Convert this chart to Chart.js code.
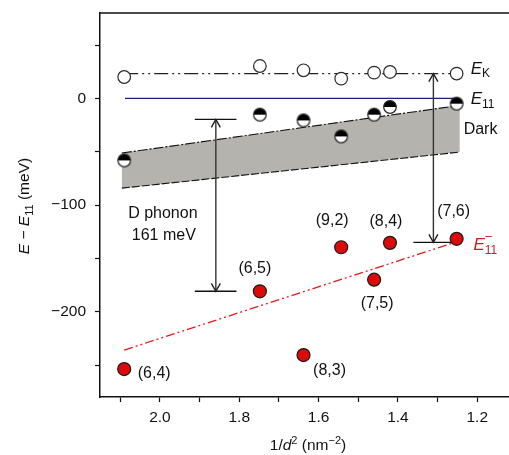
<!DOCTYPE html>
<html><head><meta charset="utf-8">
<script src="https://cdn.jsdelivr.net/npm/chart.js@4.4.1/dist/chart.umd.min.js"></script>
<style>html,body{margin:0;padding:0;background:#fff;} canvas{display:block;}</style>
</head><body>
<canvas id="c" width="509" height="455"></canvas>
<script>
// ---- data ----
const tubes  = ['(6,4)', '(6,5)', '(8,3)', '(9,2)', '(7,5)', '(8,4)', '(7,6)'];
const invD2  = [2.09, 1.748, 1.638, 1.543, 1.46, 1.42, 1.252];
const eK     = [20, 30.3, 26.3, 18.5, 24.1, 24.7, 23.2];
const eDark  = [-58.2, -15.3, -20.7, -35.7, -15.3, -8.1, -5.0];
const eMinus = [-253.8, -180.9, -240.7, -139.6, -170, -135.5, -131.7];

const ekLineX  = [2.09, 1.252];  const ekLineY  = [23.2, 23.2];
const e11LineX = [2.088, 1.256]; const e11LineY = [0, 0];
const fitX     = [2.09, 1.26];   const fitY     = [-236, -135.5];
const bandX      = [2.096, 1.244];
const bandTop    = [-51.3, -6.6];
const bandBottom = [-84.2, -50.4];
const phononX = 1.859; const phononFrom = -19.7; const phononTo = -180.9;
const phononBarX = [1.912, 1.807];
const arrow2X = 1.3106; const arrow2From = 23.2; const arrow2To = -135;
const arrow2BarX = [1.361, 1.26];

const xTickValues = [1.2, 1.3, 1.4, 1.5, 1.6, 1.7, 1.8, 1.9, 2.0, 2.1];
const xMajor = [2.0, 1.8, 1.6, 1.4, 1.2];
const yTickValues = [-250, -200, -150, -100, -50, 0, 50];
const yMajor = [0, -100, -200];

// ---- helpers ----
const FONT = '"Liberation Sans", Arial, Helvetica, sans-serif';
const pts = (xs, ys) => xs.map((x, i) => ({x, y: ys[i]}));
const hline = (xs, y) => xs.map(x => ({x, y}));
const near = (a, b) => Math.abs(a - b) < 1e-6;

function halfDot(r) {
  const s = Math.ceil(2 * r + 3), c = document.createElement('canvas');
  c.width = s; c.height = s;
  const g = c.getContext('2d'), m = s / 2;
  g.beginPath(); g.arc(m, m, r, 0, 2 * Math.PI); g.fillStyle = '#fff'; g.fill();
  g.beginPath(); g.arc(m, m, r, Math.PI, 2 * Math.PI); g.closePath(); g.fillStyle = '#000'; g.fill();
  g.beginPath(); g.arc(m, m, r, 0, 2 * Math.PI); g.lineWidth = 1.2; g.strokeStyle = '#222'; g.stroke();
  return c;
}

function fnt(p) { return (p.italic ? 'italic ' : '') + (p.size || 16) + 'px ' + FONT; }
function rich(ctx, parts, x, y, align) {
  let w = 0;
  parts.forEach(p => { ctx.font = fnt(p); p.w = ctx.measureText(p.t).width; if (p.adv !== false) w += p.w; });
  let cx = align === 'center' ? x - w / 2 : (align === 'right' ? x - w : x);
  ctx.textAlign = 'left'; ctx.textBaseline = 'alphabetic';
  parts.forEach(p => {
    ctx.font = fnt(p); ctx.fillStyle = p.color || '#111';
    ctx.fillText(p.t, cx, y + (p.dy || 0));
    if (p.adv !== false) cx += p.w;
  });
}

const labelOffsets = { // pixel offsets of tube labels from their red points
  '(6,4)': [30, 5], '(6,5)': [-5, -23], '(8,3)': [26, 16], '(9,2)': [-9, -27],
  '(7,5)': [3, 24], '(8,4)': [-4, -21], '(7,6)': [-3, -27]
};

const annot = {
  id: 'annot',
  afterDatasetsDraw(chart) {
    const ctx = chart.ctx, xs = chart.scales.x, ys = chart.scales.y, a = chart.chartArea;
    const X = v => xs.getPixelForValue(v), Y = v => ys.getPixelForValue(v);
    ctx.save();
    ctx.strokeStyle = '#111'; ctx.lineWidth = 1.5;
    ctx.beginPath(); ctx.moveTo(a.left, a.top); ctx.lineTo(a.right, a.top); ctx.stroke();
    ctx.strokeStyle = '#222'; ctx.lineWidth = 1.4;
    const head = (x, y, dir) => { ctx.beginPath(); ctx.moveTo(x - 4.5, y + dir * 8); ctx.lineTo(x, y); ctx.lineTo(x + 4.5, y + dir * 8); ctx.stroke(); };
    head(X(phononX), Y(phononFrom), 1);
    head(X(phononX), Y(phononTo), -1);
    head(X(arrow2X), Y(arrow2From), 1);
    head(X(arrow2X), Y(arrow2To), -1);
    ctx.font = '16px ' + FONT; ctx.fillStyle = '#111'; ctx.textAlign = 'center'; ctx.textBaseline = 'middle';
    tubes.forEach((t, i) => {
      const o = labelOffsets[t];
      ctx.fillText(t, X(invD2[i]) + o[0], Y(eMinus[i]) + o[1]);
    });
    const py = Y((phononFrom + phononTo) / 2), px = X(phononX);
    ctx.fillText('D phonon', px - 53, py + 8.5);
    ctx.fillText('161 meV', px - 52, py + 30);
    const ekx = X(ekLineX[1]) + 14, eky = Y(ekLineY[1]);
    rich(ctx, [{t: 'E', italic: true, size: 17}, {t: 'K', size: 12, dy: 3}], ekx, eky, 'left');
    rich(ctx, [{t: 'E', italic: true, size: 17}, {t: '11', size: 12, dy: 4}], ekx, Y(0) + 5.5, 'left');
    ctx.font = '16px ' + FONT; ctx.textAlign = 'left'; ctx.textBaseline = 'alphabetic'; ctx.fillStyle = '#111';
    ctx.fillText('Dark', ekx - 7, Y(0) + 35.5);
    const red = '#d81818';
    rich(ctx, [{t: 'E', italic: true, size: 17, color: red},
               {t: '\u2212', size: 13, dy: -9, color: red, adv: false},
               {t: '11', size: 12, dy: 4, color: red}], X(fitX[1]) + 20, Y(fitY[1]) + 7.5, 'left');
    rich(ctx, [{t: '1/', size: 15.5}, {t: 'd', italic: true, size: 15.5}, {t: '2', size: 11, dy: -6},
               {t: ' (nm', size: 15.5}, {t: '\u22122', size: 11, dy: -6}, {t: ')', size: 15.5}],
         308, 450, 'center');
    ctx.translate(29, 206); ctx.rotate(-Math.PI / 2);
    rich(ctx, [{t: 'E', italic: true, size: 15.5}, {t: ' \u2212 ', size: 15.5}, {t: 'E', italic: true, size: 15.5},
               {t: '11', size: 11, dy: 4}, {t: ' (meV)', size: 15.5}], 0, 0, 'center');
    ctx.restore();
  }
};

const lineDs = (data, color, width, dash, extra) => Object.assign({
  data, showLine: true, borderColor: color, borderWidth: width, borderDash: dash || [],
  pointRadius: 0, pointHoverRadius: 0, fill: false, tension: 0
}, extra || {});

new Chart(document.getElementById('c'), {
  type: 'scatter',
  data: {
    datasets: [
      {data: pts(invD2, eMinus), pointRadius: 6.5, pointBackgroundColor: '#dd0a0a', pointBorderColor: '#1a1a1a', pointBorderWidth: 1.2, showLine: false},
      {data: pts(invD2, eDark), pointStyle: halfDot(6.3), pointRadius: 6.5, showLine: false},
      {data: pts(invD2, eK), pointRadius: 6.3, pointBackgroundColor: '#fff', pointBorderColor: '#2a2a2a', pointBorderWidth: 1.2, showLine: false},
      lineDs([{x: phononX, y: phononFrom}, {x: phononX, y: phononTo}], '#333', 1.4),
      lineDs(hline(phononBarX, phononFrom), '#111', 1.4),
      lineDs(hline(phononBarX, phononTo), '#111', 1.4),
      lineDs([{x: arrow2X, y: arrow2From}, {x: arrow2X, y: arrow2To}], '#333', 1.4),
      lineDs(hline(arrow2BarX, arrow2To), '#111', 1.4),
      lineDs(pts(ekLineX, ekLineY), '#222', 1.2, [14, 4, 2, 4, 2, 4]),
      lineDs(pts(e11LineX, e11LineY), '#1c1c84', 1.2),
      lineDs(pts(fitX, fitY), '#e01a1a', 1.3, [9, 3, 2, 3, 2, 3]),
      lineDs(pts(bandX, bandTop), '#111', 1.1, [10, 2, 2, 2]),
      lineDs(pts(bandX, bandBottom), '#111', 1.1, [8, 2], {fill: '-1', backgroundColor: '#b5b3ae'})
    ]
  },
  options: {
    responsive: false, animation: false, events: [],
    layout: {autoPadding: false, padding: {top: 13, right: 0, left: 0, bottom: 0}},
    plugins: {legend: {display: false}, tooltip: {enabled: false}},
    scales: {
      x: {
        type: 'linear', reverse: true, min: 1.12, max: 2.151,
        afterBuildTicks: s => { s.ticks = xTickValues.map(v => ({value: v})); },
        afterFit: s => { s.height = 58; s.paddingLeft = 0; s.paddingRight = 0; s.paddingTop = 0; s.paddingBottom = 0; },
        ticks: {
          font: {family: FONT, size: 15.5}, color: '#111', padding: 6, maxRotation: 0, autoSkip: false,
          callback: v => xMajor.some(m => near(m, v)) ? v.toFixed(1) : ''
        },
        grid: {drawOnChartArea: false, drawTicks: true, tickLength: 5, color: '#111', tickWidth: 1.2},
        border: {display: true, color: '#111', width: 1.5}
      },
      y: {
        type: 'linear', min: -280, max: 80,
        afterBuildTicks: s => { s.ticks = yTickValues.map(v => ({value: v})); },
        afterFit: s => { s.width = 100; s.paddingLeft = 0; s.paddingRight = 0; s.paddingTop = 0; s.paddingBottom = 0; },
        ticks: {
          font: {family: FONT, size: 15.5}, color: '#111', padding: 9, autoSkip: false,
          callback: v => yMajor.some(m => near(m, v)) ? (v < 0 ? '\u2212' + Math.abs(v) : String(v)) : ''
        },
        grid: {drawOnChartArea: false, drawTicks: true, tickLength: 5, color: '#111', tickWidth: 1.2},
        border: {display: true, color: '#111', width: 1.5}
      }
    }
  },
  plugins: [annot]
});
</script>
</body></html>
